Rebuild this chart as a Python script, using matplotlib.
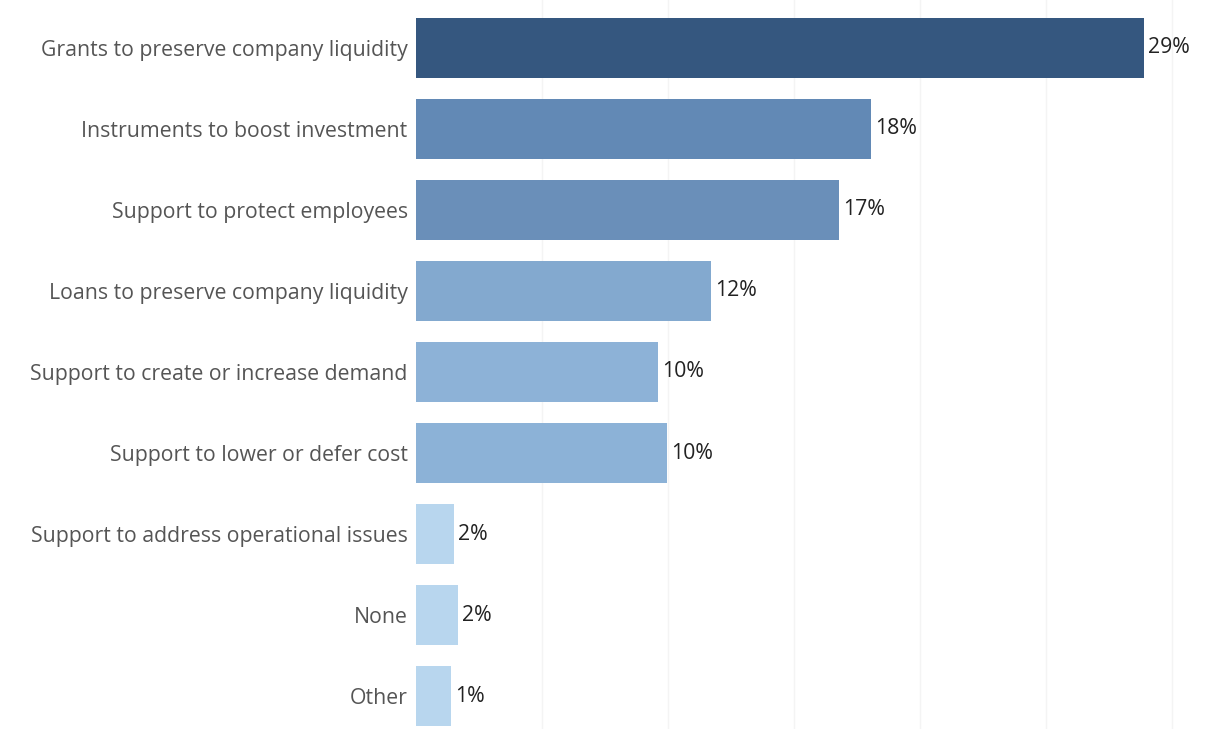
import matplotlib.pyplot as plt

plt.rcParams["font.family"] = ["Open Sans", "DejaVu Sans"]

# share of respondents (%), bar lengths
categories = [
    "Grants to preserve company liquidity",
    "Instruments to boost investment",
    "Support to protect employees",
    "Loans to preserve company liquidity",
    "Support to create or increase demand",
    "Support to lower or defer cost",
    "Support to address operational issues",
    "None",
    "Other",
]
values = [28.9, 18.05, 16.8, 11.7, 9.6, 9.95, 1.5, 1.67, 1.38]
value_labels = ["29%", "18%", "17%", "12%", "10%", "10%", "2%", "2%", "1%"]
colors = ["#35577f", "#6289b5", "#6a8fb9", "#83a9cf", "#8db2d7", "#8cb2d7",
          "#b8d6ee", "#b8d6ee", "#b8d6ee"]

fig = plt.figure(figsize=(12.26, 7.29), dpi=100)
ax = fig.add_axes([416 / 1226, 0, 1 - 416 / 1226, 1])

ypos = list(range(len(categories)))
ax.barh(ypos, values, height=0.74, color=colors, zorder=2)

for y, v, lab in zip(ypos, values, value_labels):
    ax.text(v + 0.16, y, lab, va="center", ha="left", fontsize=15.3, color="#222222")

ax.set_yticks(ypos)
ax.set_yticklabels(categories, fontsize=15.3, color="#555555")
ax.tick_params(axis="y", length=0, pad=6)
ax.set_xticks([5, 10, 15, 20, 25, 30])
ax.tick_params(axis="x", length=0, labelbottom=False)
ax.grid(axis="x", color="#f4f4f4", linewidth=1, zorder=0)
ax.set_xlim(0, 32.14)
ax.set_ylim(8.407, -0.592)
for s in ax.spines.values():
    s.set_visible(False)

fig.savefig("out.png", dpi=100)
